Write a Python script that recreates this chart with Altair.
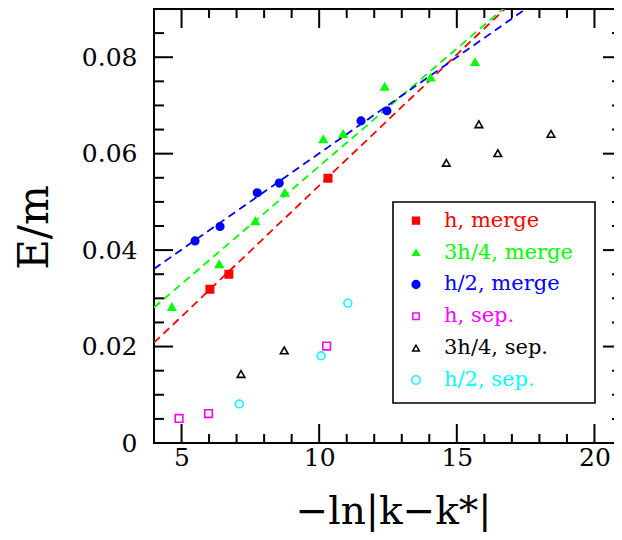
import altair as alt
import pandas as pd

# ---- data ----
series_names = ["h, merge", "3h/4, merge", "h/2, merge", "h, sep.", "3h/4, sep.", "h/2, sep."]
series_colors = ["#ff0000", "#00ff00", "#0000ff", "#ff00ff", "#000000", "#00ffff"]
series_fills = ["#ff0000", "#00ff00", "#0000ff", "transparent", "transparent", "transparent"]
series_shapes = ["square", "triangle-up", "circle", "square", "triangle-up", "circle"]
series_sizes = [55, 60, 75, 45, 60, 95]

h_merge_x = [6.03, 6.72, 10.32]
h_merge_y = [0.0319, 0.0350, 0.0549]
t_merge_x = [4.65, 6.37, 7.68, 8.75, 10.15, 10.87, 12.38, 14.05, 15.66]
t_merge_y = [0.0282, 0.0371, 0.0460, 0.0519, 0.0630, 0.0641, 0.0739, 0.0758, 0.0790]
c_merge_x = [5.49, 6.40, 7.75, 8.55, 11.52, 12.46]
c_merge_y = [0.0419, 0.0449, 0.0519, 0.0539, 0.0668, 0.0689]
h_sep_x = [4.91, 5.98, 10.27]
h_sep_y = [0.0051, 0.0061, 0.0201]
t_sep_x = [7.16, 8.73, 14.62, 15.80, 16.49, 18.42]
t_sep_y = [0.0143, 0.0192, 0.0581, 0.0661, 0.0601, 0.0641]
c_sep_x = [7.10, 10.07, 11.04]
c_sep_y = [0.0081, 0.0181, 0.0290]

# dashed fit lines (end points)
fit_red_x = [4.0, 16.74]
fit_red_y = [0.0208, 0.09]
fit_green_x = [4.0, 16.68]
fit_green_y = [0.0281, 0.09]
fit_blue_x = [4.0, 17.5]
fit_blue_y = [0.0361, 0.09]

# axis ticks
x_major = [5, 10, 15, 20]
x_minor = [6, 7, 8, 9, 11, 12, 13, 14, 16, 17, 18, 19]
y_major = [0.02, 0.04, 0.06, 0.08]
y_minor = [0.005, 0.01, 0.015, 0.025, 0.03, 0.035, 0.045, 0.05, 0.055,
           0.065, 0.07, 0.075, 0.085]
y_labels = [0, 0.02, 0.04, 0.06, 0.08]

X_DOMAIN = [4, 21]
Y_DOMAIN = [0, 0.09]
W, H = 468, 434

# ---- build tables ----
rows = []
for name, xs_, ys_ in zip(series_names,
                          [h_merge_x, t_merge_x, c_merge_x, h_sep_x, t_sep_x, c_sep_x],
                          [h_merge_y, t_merge_y, c_merge_y, h_sep_y, t_sep_y, c_sep_y]):
    for x, y in zip(xs_, ys_):
        rows.append({"series": name, "x": x, "y": y})
pts = pd.DataFrame(rows)

lrows = []
for c, xs_, ys_ in [("#ff0000", fit_red_x, fit_red_y),
                    ("#00ff00", fit_green_x, fit_green_y),
                    ("#0000ff", fit_blue_x, fit_blue_y)]:
    for x, y in zip(xs_, ys_):
        lrows.append({"c": c, "x": x, "y": y})
lines = pd.DataFrame(lrows)

FONT = "DejaVu Serif"
xs = alt.Scale(domain=X_DOMAIN, nice=False, zero=False)
ys = alt.Scale(domain=Y_DOMAIN, nice=False, zero=False)
px_x = (X_DOMAIN[1] - X_DOMAIN[0]) / W
px_y = (Y_DOMAIN[1] - Y_DOMAIN[0]) / H

x_axis = alt.Axis(
    values=x_major, grid=False, domain=False, ticks=False, tickSize=0,
    labelFont=FONT, labelFontSize=25, labelColor="black", labelPadding=2,
    labelFlush=False,
    title="−ln|k−k*|", titleFont=FONT, titleFontSize=39, titleFontWeight="normal",
    titleColor="black", titleBaseline="alphabetic", titleX=239, titleY=80,
    titleAlign="center")
y_axis = alt.Axis(
    values=y_labels, grid=False, domain=False, ticks=False, tickSize=0,
    labelFont=FONT, labelFontSize=25, labelColor="black", labelPadding=17,
    labelFlush=False,
    labelExpr="datum.value == 0 ? '0' : format(datum.value, '.2f')",
    title="E/m", titleFont=FONT, titleFontSize=42, titleFontWeight="normal",
    titleColor="black", titleAngle=270, titleBaseline="alphabetic",
    titleX=-107, titleY=218, titleAlign="center")

line_layer = alt.Chart(lines).mark_line(strokeDash=[8, 5], strokeWidth=1.8, clip=True).encode(
    x=alt.X("x:Q", scale=xs, axis=x_axis),
    y=alt.Y("y:Q", scale=ys, axis=y_axis),
    color=alt.Color("c:N", scale=None),
    detail="c:N",
)

point_layer = alt.Chart(pts).mark_point(strokeWidth=1.6, opacity=1).encode(
    x=alt.X("x:Q", scale=xs, axis=x_axis),
    y=alt.Y("y:Q", scale=ys, axis=y_axis),
    shape=alt.Shape("series:N", scale=alt.Scale(domain=series_names, range=series_shapes), legend=None),
    stroke=alt.Stroke("series:N", scale=alt.Scale(domain=series_names, range=series_colors), legend=None),
    fill=alt.Fill("series:N", scale=alt.Scale(domain=series_names, range=series_fills), legend=None),
    size=alt.Size("series:N", scale=alt.Scale(domain=series_names, range=series_sizes), legend=None),
)


# inward frame ticks: line-shaped symbols centred half a tick length inside the frame
def xtick_layer(vals, length):
    trows = []
    for v in vals:
        trows.append({"x": v, "y": Y_DOMAIN[0] + length / 2 * px_y})
        trows.append({"x": v, "y": Y_DOMAIN[1] - length / 2 * px_y})
    return alt.Chart(pd.DataFrame(trows)).mark_point(
        shape="M0,-1L0,1", size=length * length, color="black", strokeWidth=2,
        filled=False, opacity=1).encode(
        x=alt.X("x:Q", scale=xs, axis=x_axis), y=alt.Y("y:Q", scale=ys, axis=y_axis))


def ytick_layer(vals, length):
    trows = []
    for v in vals:
        trows.append({"x": X_DOMAIN[0] + length / 2 * px_x, "y": v})
        trows.append({"x": X_DOMAIN[1] - length / 2 * px_x, "y": v})
    return alt.Chart(pd.DataFrame(trows)).mark_point(
        shape="M-1,0L1,0", size=length * length, color="black", strokeWidth=2,
        filled=False, opacity=1).encode(
        x=alt.X("x:Q", scale=xs, axis=x_axis), y=alt.Y("y:Q", scale=ys, axis=y_axis))


ticks = [xtick_layer(x_major, 19), xtick_layer(x_minor, 9),
         ytick_layer(y_major, 19), ytick_layer(y_minor, 10)]

# ---- hand-drawn legend box (pixel layout inside the plot area) ----
LEG_LEFT, LEG_RIGHT, LEG_TOP, LEG_BOTTOM = 239, 441, 193, 394
LEG_SYM_X, LEG_TEXT_X = 262, 290
LEG_ROW0, LEG_STEP = 211.7, 31.85

legend_layers = [
    alt.Chart(pd.DataFrame({"k": [0]})).mark_rect(
        fill="white", stroke="black", strokeWidth=1.6).encode(
        x=alt.value(LEG_LEFT), x2=alt.value(LEG_RIGHT),
        y=alt.value(LEG_TOP), y2=alt.value(LEG_BOTTOM))
]
legend_sizes = [45, 40, 60, 40, 45, 70]
for i, (name, col, fil, shp, sz) in enumerate(zip(series_names, series_colors, series_fills,
                                                   series_shapes, legend_sizes)):
    py = LEG_ROW0 + i * LEG_STEP
    df = pd.DataFrame({"label": [name]})
    legend_layers.append(
        alt.Chart(df).mark_point(shape=shp, size=sz, stroke=col, fill=fil,
                                 strokeWidth=1.5, opacity=1).encode(
            x=alt.value(LEG_SYM_X), y=alt.value(py)))
    legend_layers.append(
        alt.Chart(df).mark_text(align="left", baseline="middle", font=FONT,
                                fontSize=21, color=col).encode(
            text="label:N", x=alt.value(LEG_TEXT_X), y=alt.value(py)))

chart = alt.layer(line_layer, *ticks, point_layer, *legend_layers).properties(
    width=W, height=H,
    autosize=alt.AutoSizeParams(type="none"),
    padding={"left": 146, "top": 1, "right": -8, "bottom": 89},
    background="white",
).configure_view(stroke="black", strokeWidth=2)

chart.save("out.html", embed_options={"renderer": "svg", "actions": False})
